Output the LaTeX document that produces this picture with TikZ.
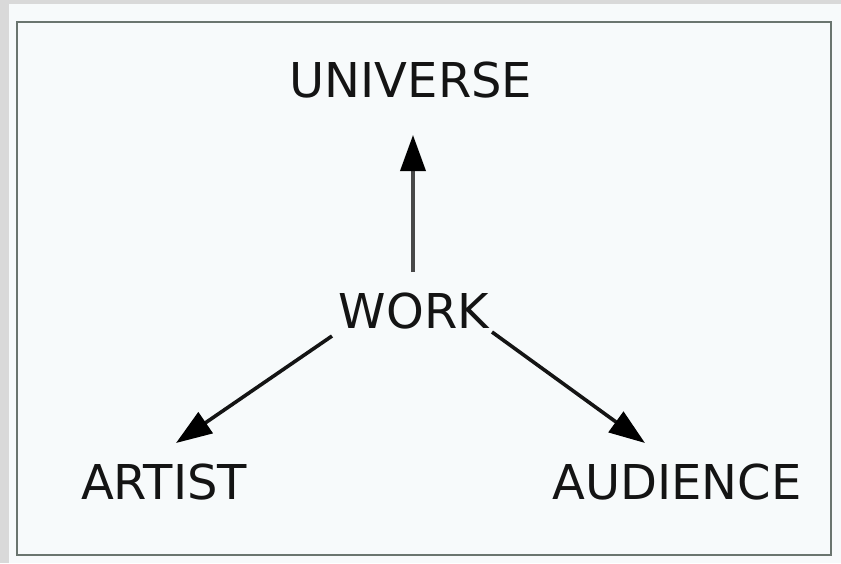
\documentclass[tikz,border=0pt]{standalone}
\usepackage{fontspec}
\setmainfont{DejaVu Sans}
\usetikzlibrary{arrows.meta}
\definecolor{outergrey}{HTML}{D9D9D9}
\definecolor{panel}{HTML}{F7FAFB}
\definecolor{frame}{HTML}{6A756F}
\definecolor{ink}{HTML}{141414}
\definecolor{stem}{HTML}{484848}
\begin{document}
\begin{tikzpicture}[x=1pt,y=-1pt,
  lbl/.style={font=\fontsize{48}{48}\selectfont, text=ink, inner sep=0pt, anchor=center},
  arr/.style={draw=ink, line width=3.6pt, -{Triangle[length=36pt,width=25pt,color=black]}}]
\useasboundingbox (0,0) rectangle (841,563);
\fill[outergrey] (0,0) rectangle (841,563);
\fill[panel] (9,4) rectangle (841,563);
\draw[frame, line width=2.6pt, fill=panel] (17,22) rectangle (831,555);

\node[lbl] (universe) at (411,80) {UNIVERSE};
\node[lbl] (work) at (414,311) {WORK};
\node[lbl] (artist) at (164,482) {ARTIST};
\node[lbl] (audience) at (677,482) {AUDIENCE};

\draw[arr, draw=stem] ([shift={(-1,-39)}]work.center) -- ([shift={(2,55)}]universe.center);
\draw[arr] ([shift={(-82,25)}]work.center) -- ([shift={(12,-39)}]artist.center);
\draw[arr] ([shift={(78,21)}]work.center) -- ([shift={(-32,-39)}]audience.center);
\end{tikzpicture}
\end{document}
